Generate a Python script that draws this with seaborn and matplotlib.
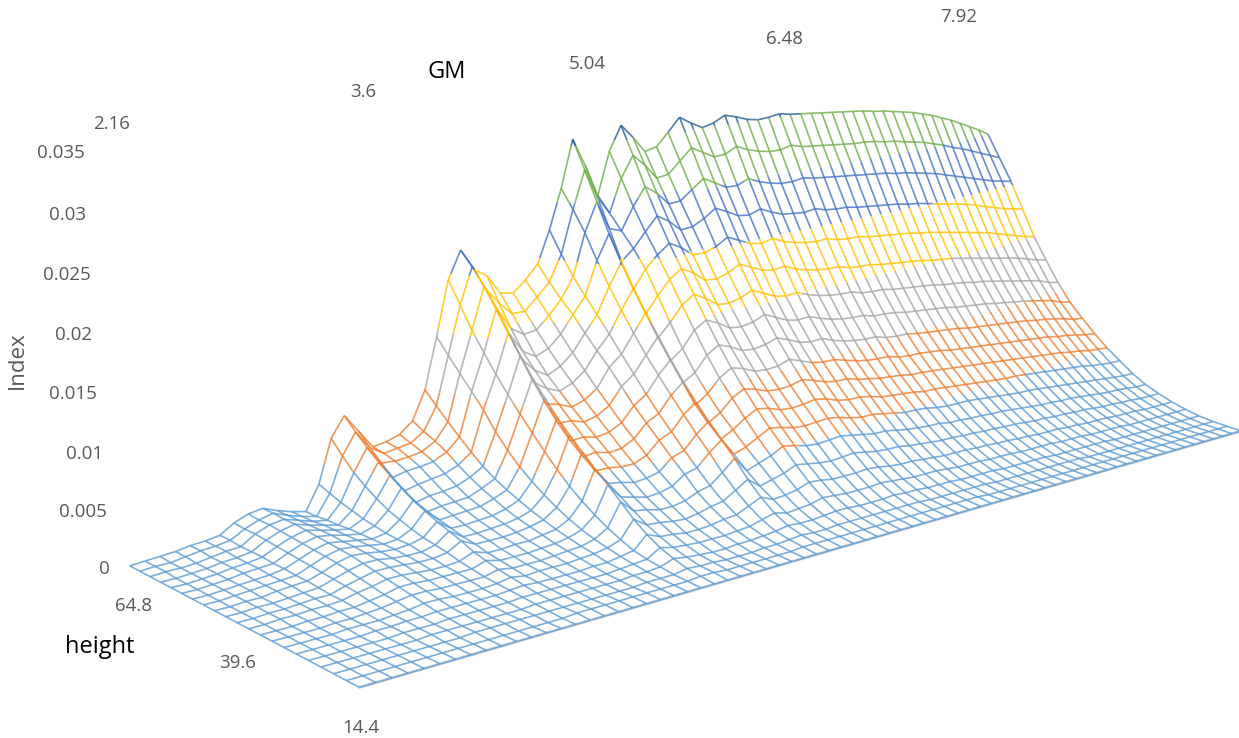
"""
3D wireframe surface of Index against GM and height, coloured by 0.005 bands
"""
import numpy as np
import matplotlib
matplotlib.use("Agg")
import matplotlib.pyplot as plt
import seaborn as sns
from mpl_toolkits.mplot3d.art3d import Line3DCollection

gm_ticks = ["2.16", "3.6", "5.04", "6.48", "7.92"]
height_ticks = ["64.8", "39.6", "14.4"]
index_ticks = ["0.035", "0.03", "0.025", "0.02", "0.015", "0.01", "0.005", "0"]
band_levels = [0, 0.005, 0.01, 0.015, 0.02, 0.025, 0.03, 0.035]
band_colors = ["#5B9BD5", "#ED7D31", "#A5A5A5", "#FFC000", "#4472C4", "#70AD47", "#255E91"]

# Index x 10000, one line per GM step (2.16 ... 7.92), height 14.4 ... 64.8 along the line
index_grid = [
    [0, 0, 0, 0, 0, 0, 0, 0, 0, 0, 0, 0, 0, 0, 0, 0, 0, 0, 0, 0, 0],
    [0, 0, 0, 0, 0, 0, 0, 0, 0, 0, 0, 0, 0, 0, 0, 0, 0, 0, 1, 1, 1],
    [0, 0, 0, 0, 0, 0, 0, 0, 0, 1, 1, 1, 1, 1, 1, 1, 1, 1, 1, 1, 2],
    [0, 0, 0, 0, 0, 0, 0, 0, 1, 1, 1, 1, 1, 2, 2, 2, 2, 2, 2, 3, 3],
    [0, 0, 0, 0, 0, 0, 1, 1, 1, 2, 2, 2, 3, 3, 3, 4, 4, 4, 4, 5, 5],
    [0, 0, 0, 0, 0, 1, 1, 1, 2, 2, 3, 3, 4, 4, 4, 5, 5, 5, 6, 6, 6],
    [0, 0, 0, 0, 1, 1, 1, 2, 2, 3, 3, 4, 5, 5, 6, 6, 7, 7, 7, 8, 8],
    [0, 0, 0, 1, 1, 2, 2, 3, 4, 6, 7, 8, 9, 10, 11, 12, 13, 14, 15, 15, 16],
    [0, 0, 0, 1, 1, 2, 3, 5, 6, 8, 10, 12, 14, 15, 16, 17, 18, 19, 20, 20, 21],
    [0, 0, 1, 1, 2, 3, 5, 7, 9, 11, 13, 15, 17, 18, 19, 20, 21, 22, 22, 23, 23],
    [0, 0, 1, 1, 2, 3, 5, 7, 9, 11, 13, 15, 16, 17, 17, 18, 18, 18, 18, 18, 18],
    [0, 0, 1, 1, 2, 3, 4, 6, 8, 10, 12, 13, 14, 15, 15, 15, 15, 15, 14, 14, 14],
    [0, 0, 1, 1, 2, 3, 4, 6, 8, 9, 11, 12, 13, 13, 13, 13, 13, 12, 12, 11, 11],
    [0, 0, 1, 1, 2, 3, 4, 6, 8, 9, 11, 12, 14, 14, 15, 17, 19, 22, 25, 29, 33],
    [0, 0, 1, 2, 3, 4, 5, 6, 8, 10, 13, 15, 17, 20, 24, 28, 34, 41, 49, 60, 72],
    [0, 1, 1, 2, 3, 5, 7, 9, 12, 15, 20, 24, 28, 33, 38, 45, 52, 60, 69, 79, 90],
    [0, 1, 1, 2, 3, 4, 5, 7, 9, 11, 14, 16, 19, 22, 25, 29, 35, 43, 52, 62, 73],
    [0, 1, 1, 2, 3, 4, 6, 7, 9, 11, 14, 16, 19, 23, 27, 32, 38, 46, 51, 54, 56],
    [0, 1, 1, 2, 3, 4, 6, 7, 9, 12, 14, 17, 20, 24, 28, 33, 40, 47, 52, 56, 58],
    [0, 1, 1, 2, 3, 4, 6, 8, 10, 12, 15, 18, 21, 25, 29, 35, 42, 49, 54, 58, 62],
    [0, 1, 1, 2, 3, 5, 7, 9, 11, 14, 17, 20, 24, 29, 34, 40, 47, 55, 61, 66, 72],
    [0, 1, 2, 3, 4, 5, 8, 10, 13, 16, 20, 24, 29, 34, 40, 47, 56, 66, 76, 87, 98],
    [0, 1, 2, 3, 5, 7, 10, 13, 17, 22, 28, 35, 43, 52, 63, 76, 92, 105, 118, 131, 145],
    [0, 1, 2, 4, 6, 9, 14, 20, 27, 35, 44, 55, 67, 80, 93, 107, 122, 138, 155, 175, 195],
    [0, 2, 4, 8, 13, 20, 29, 40, 51, 61, 72, 83, 95, 109, 123, 140, 157, 175, 193, 208, 220],
    [0, 2, 3, 6, 10, 15, 21, 29, 37, 45, 52, 61, 71, 83, 97, 113, 131, 150, 169, 185, 200],
    [0, 1, 3, 5, 9, 14, 20, 27, 34, 43, 52, 62, 72, 83, 94, 105, 118, 132, 150, 170, 192],
    [0, 1, 2, 4, 8, 12, 18, 24, 31, 40, 50, 59, 69, 79, 89, 100, 111, 125, 142, 158, 174],
    [0, 1, 2, 4, 8, 12, 17, 24, 32, 41, 50, 60, 71, 82, 93, 105, 117, 130, 144, 158, 172],
    [0, 1, 2, 5, 8, 13, 19, 26, 35, 44, 55, 66, 77, 89, 101, 114, 127, 141, 155, 169, 182],
    [0, 1, 3, 5, 9, 15, 22, 31, 43, 54, 66, 78, 90, 104, 118, 130, 143, 157, 168, 181, 195],
    [0, 1, 3, 6, 10, 16, 24, 34, 46, 58, 71, 84, 98, 113, 128, 143, 158, 172, 187, 205, 225],
    [0, 2, 4, 7, 13, 21, 31, 43, 57, 70, 84, 98, 113, 128, 145, 163, 182, 203, 226, 245, 262],
    [0, 2, 5, 9, 16, 26, 38, 53, 66, 79, 93, 108, 125, 143, 162, 181, 202, 226, 253, 280, 306],
    [0, 2, 4, 8, 13, 21, 29, 39, 50, 60, 71, 84, 101, 118, 136, 155, 175, 198, 226, 253, 280],
    [0, 2, 4, 8, 14, 22, 32, 43, 54, 66, 78, 92, 108, 127, 148, 170, 192, 208, 222, 236, 250],
    [0, 2, 5, 9, 15, 24, 35, 47, 60, 74, 89, 104, 122, 142, 162, 183, 203, 222, 243, 267, 290],
    [0, 2, 5, 10, 18, 28, 40, 53, 66, 80, 95, 111, 129, 149, 170, 191, 212, 235, 260, 287, 313],
    [0, 2, 5, 10, 17, 27, 38, 51, 64, 78, 92, 108, 125, 144, 164, 185, 206, 228, 252, 276, 300],
    [0, 2, 5, 9, 16, 25, 36, 48, 61, 74, 88, 103, 119, 137, 156, 176, 197, 218, 240, 262, 285],
    [0, 2, 5, 9, 16, 25, 35, 47, 60, 73, 87, 102, 118, 136, 155, 175, 197, 219, 241, 264, 288],
    [0, 2, 5, 9, 16, 25, 36, 48, 61, 74, 88, 103, 120, 138, 158, 179, 201, 225, 250, 275, 300],
    [0, 2, 5, 10, 17, 26, 37, 49, 62, 76, 91, 107, 124, 143, 163, 185, 208, 233, 259, 286, 313],
    [0, 2, 5, 9, 16, 25, 35, 47, 60, 74, 88, 103, 120, 138, 158, 180, 203, 228, 253, 280, 306],
    [0, 2, 4, 9, 15, 23, 33, 45, 57, 70, 84, 99, 115, 133, 153, 175, 198, 222, 247, 274, 300],
    [0, 2, 4, 8, 14, 22, 32, 43, 55, 68, 82, 97, 113, 131, 151, 173, 196, 221, 247, 275, 303],
    [0, 2, 4, 8, 14, 22, 32, 43, 55, 68, 82, 97, 114, 132, 152, 175, 199, 225, 252, 281, 309],
    [0, 2, 4, 8, 14, 21, 30, 41, 53, 66, 79, 94, 110, 128, 148, 170, 194, 220, 247, 276, 306],
    [0, 1, 4, 7, 13, 20, 29, 39, 51, 63, 77, 91, 107, 125, 145, 167, 191, 216, 244, 273, 302],
    [0, 1, 4, 7, 12, 19, 28, 38, 49, 62, 75, 89, 105, 123, 143, 165, 189, 215, 242, 271, 300],
    [0, 1, 3, 7, 12, 19, 27, 37, 49, 61, 74, 88, 104, 122, 142, 164, 188, 214, 242, 271, 301],
    [0, 1, 3, 7, 12, 19, 27, 37, 48, 60, 73, 88, 104, 122, 142, 164, 189, 216, 244, 274, 303],
    [0, 1, 3, 6, 11, 18, 26, 35, 46, 58, 71, 85, 101, 119, 139, 161, 186, 213, 242, 271, 301],
    [0, 1, 3, 6, 11, 18, 26, 35, 45, 58, 71, 84, 100, 119, 138, 160, 185, 212, 241, 270, 300],
    [0, 1, 3, 6, 11, 17, 25, 34, 45, 57, 70, 84, 100, 118, 138, 160, 185, 212, 240, 269, 299],
    [0, 1, 3, 6, 10, 17, 25, 34, 45, 56, 69, 83, 98, 116, 136, 158, 183, 210, 239, 268, 298],
    [0, 1, 3, 6, 10, 16, 24, 33, 44, 55, 68, 82, 97, 115, 135, 157, 182, 209, 238, 267, 297],
    [0, 1, 3, 5, 10, 16, 24, 33, 43, 54, 67, 80, 96, 114, 134, 156, 181, 208, 237, 266, 296],
    [0, 1, 3, 5, 10, 15, 23, 32, 42, 53, 66, 79, 95, 113, 133, 155, 180, 207, 236, 266, 295],
    [0, 1, 2, 5, 9, 15, 22, 31, 41, 52, 65, 78, 94, 112, 132, 154, 179, 206, 235, 265, 294],
    [0, 1, 2, 5, 9, 15, 22, 30, 40, 51, 64, 77, 92, 110, 130, 152, 177, 204, 233, 263, 292],
    [0, 1, 2, 5, 9, 14, 21, 29, 40, 51, 63, 76, 91, 109, 129, 151, 176, 203, 232, 262, 291],
    [0, 1, 2, 5, 8, 14, 21, 29, 39, 50, 62, 75, 90, 108, 128, 150, 174, 201, 230, 260, 289],
    [0, 1, 2, 4, 8, 13, 20, 28, 38, 49, 61, 74, 89, 107, 126, 148, 172, 199, 228, 258, 287],
    [0, 1, 2, 4, 8, 13, 20, 28, 37, 48, 60, 73, 88, 105, 125, 146, 170, 197, 226, 256, 285],
    [0, 1, 2, 4, 8, 13, 19, 27, 36, 47, 59, 72, 87, 104, 123, 144, 168, 195, 223, 253, 282],
    [0, 1, 2, 4, 7, 12, 18, 26, 35, 46, 58, 71, 86, 102, 121, 142, 166, 193, 220, 250, 279],
    [0, 1, 2, 4, 7, 12, 18, 25, 34, 45, 57, 70, 84, 101, 119, 140, 164, 190, 217, 246, 275],
    [0, 1, 2, 4, 7, 12, 17, 24, 33, 44, 55, 68, 83, 99, 117, 138, 161, 187, 214, 243, 271],
    [0, 1, 2, 4, 7, 11, 17, 24, 32, 42, 54, 67, 81, 97, 115, 136, 158, 184, 211, 239, 266],
    [0, 1, 2, 4, 7, 11, 16, 23, 31, 41, 52, 65, 79, 95, 113, 133, 155, 181, 208, 235, 261],
    [0, 1, 2, 4, 7, 11, 16, 22, 30, 40, 51, 63, 76, 91, 109, 130, 152, 179, 206, 231, 256],
    [0, 1, 2, 4, 7, 11, 16, 22, 30, 40, 50, 62, 75, 89, 107, 128, 150, 177, 204, 227, 250],
]

sns.set_theme(style="white")
plt.rcParams['font.family'] = ['Open Sans', 'DejaVu Sans']
palette = sns.color_palette(band_colors)

WIDTH, HEIGHT = 1239, 738
z_grid = np.array(index_grid) / 10000
gm_values = np.linspace(float(gm_ticks[0]), float(gm_ticks[-1]), z_grid.shape[0])
height_values = np.linspace(float(height_ticks[-1]), float(height_ticks[0]), z_grid.shape[1])


def add_segment(bands, p0, p1):
    # cut one mesh edge at the band levels so each piece takes its band colour
    z0, z1 = p0[2], p1[2]
    cuts = [0.0]
    for lev in band_levels[1:-1]:
        if min(z0, z1) < lev < max(z0, z1):
            cuts.append((lev - z0) / (z1 - z0))
    cuts = sorted(cuts) + [1.0]
    for a, b in zip(cuts[:-1], cuts[1:]):
        pa = p0 + (p1 - p0) * a
        pb = p0 + (p1 - p0) * b
        mid = (pa[2] + pb[2]) / 2
        band = int(np.searchsorted(band_levels, mid, side='right')) - 1
        bands[min(band, len(band_colors) - 1)].append([pa, pb])


def main():
    fig = plt.figure(figsize=(WIDTH / 100, HEIGHT / 100), dpi=100)
    pos = [98.30, -200.72, 1234.37, 1234.37]
    ax = fig.add_axes([pos[0] / WIDTH, pos[1] / HEIGHT, pos[2] / WIDTH, pos[3] / HEIGHT], projection='3d')
    ax.set_xlim(gm_values[0], gm_values[-1])
    ax.set_ylim(height_values[0], height_values[-1])
    ax.set_zlim(band_levels[0], band_levels[-1])
    ax.view_init(13.473, -130.709)
    ax.set_proj_type('persp', focal_length=0.3805)
    ax.set_box_aspect((2.9033, 1, 0.9992))
    ax.set_axis_off()

    ax.plot(gm_values[[0, -1]], height_values[[0, 0]], [0, 0], color="#D9D9D9", lw=2.2)

    bands = [[] for _ in band_colors]
    for i, gm in enumerate(gm_values):
        for j, h in enumerate(height_values):
            p = np.array([gm, h, z_grid[i, j]])
            if i + 1 < len(gm_values):
                add_segment(bands, p, np.array([gm_values[i + 1], h, z_grid[i + 1, j]]))
            if j + 1 < len(height_values):
                add_segment(bands, p, np.array([gm, height_values[j + 1], z_grid[i, j + 1]]))
    for segs, color in zip(bands, palette):
        if segs:
            ax.add_collection3d(Line3DCollection(segs, colors=[color], linewidths=1.2, alpha=0.8))

    def label(x, y, s, size=13.5, color="#595959", **kw):
        fig.text(x / WIDTH, 1 - (y + 2) / HEIGHT, s, fontsize=size, color=color, ha='center', va='center', **kw)

    for s, x, y in zip(index_ticks, [61, 67, 67, 74, 73, 85, 83, 104], [151, 213, 273, 333, 392, 452, 510, 567]):
        label(x, y, s)
    for s, x, y in zip(gm_ticks, [112, 363, 587, 785, 959], [122, 90, 62, 37, 15]):
        label(x, y, s)
    for s, x, y in zip(height_ticks, [133, 238, 361], [604, 661, 726]):
        label(x, y, s)
    label(447, 70, "GM", size=17, color="black")
    label(100, 645, "height", size=17, color="black")
    label(17, 358, "Index", size=16, rotation=90)

    fig.savefig("out.png", dpi=100)
    plt.close(fig)


if __name__ == "__main__":
    main()
